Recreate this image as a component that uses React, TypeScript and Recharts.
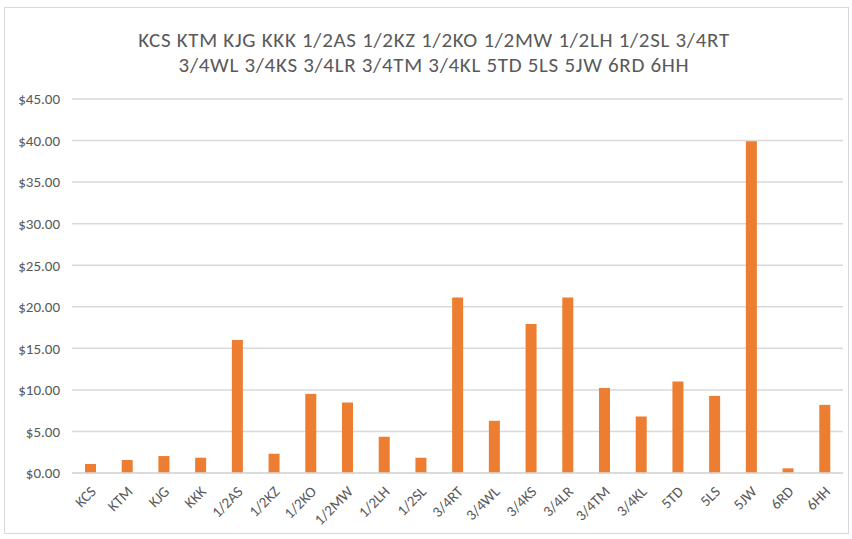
import { BarChart, Bar, XAxis, YAxis, CartesianGrid } from 'recharts'

// category names (also used to build the title)
const categories = [
  'KCS', 'KTM', 'KJG', 'KKK', '1/2AS', '1/2KZ', '1/2KO', '1/2MW', '1/2LH', '1/2SL', '3/4RT',
  '3/4WL', '3/4KS', '3/4LR', '3/4TM', '3/4KL', '5TD', '5LS', '5JW', '6RD', '6HH'
]

// price per item
const prices = [
  1.08, 1.56, 2.04, 1.84, 16.0, 2.32, 9.52, 8.48, 4.36, 1.84, 21.12,
  6.28, 17.92, 21.12, 10.24, 6.8, 11.0, 9.28, 39.92, 0.56, 8.2
]

const yTicks = [0, 5, 10, 15, 20, 25, 30, 35, 40, 45]

const titleLines = [categories.slice(0, 11).join(' '), categories.slice(11).join(' ')]

const data = categories.map((name, i) => ({ name, value: prices[i] }))

const FONT = 'Carlito, Calibri, Lato, sans-serif'
const GREY = '#595959'

const XTick = (props: any) => {
  const { x, y, payload } = props
  return (
    <g transform={`translate(${x + 3},${y + 8})`}>
      <text
        x={0}
        y={0}
        dy={5}
        textAnchor="end"
        transform="rotate(-45)"
        fill={GREY}
        fontSize={15}
        fontFamily={FONT}
      >
        {payload.value}
      </text>
    </g>
  )
}

export default function App() {
  return (
    <div style={{ position: 'absolute', left: 0, top: 0, width: 852, height: 539, background: '#fff' }}>
      <div
        style={{
          position: 'absolute',
          left: 4,
          top: 7,
          width: 843,
          height: 525,
          border: '1px solid #d9d9d9'
        }}
      />
      {titleLines.map((line, i) => (
        <div
          key={i}
          style={{
            position: 'absolute',
            left: 0,
            width: 868,
            top: 28 + i * 25,
            textAlign: 'center',
            fontFamily: FONT,
            fontSize: 21,
            letterSpacing: 0.7,
            color: GREY,
            lineHeight: '25px',
            whiteSpace: 'nowrap'
          }}
        >
          {line}
        </div>
      ))}
      <div style={{ position: 'absolute', left: 0, top: 0 }}>
        <BarChart
          width={852}
          height={539}
          data={data}
          margin={{ top: 99, right: 9, bottom: 6, left: 12 }}
        >
          <CartesianGrid vertical={false} stroke="#d9d9d9" strokeWidth={1.5} />
          <XAxis
            dataKey="name"
            interval={0}
            height={60}
            tickLine={false}
            axisLine={{ stroke: '#d9d9d9', strokeWidth: 1.5 }}
            tick={<XTick />}
          />
          <YAxis
            width={60}
            domain={[0, 45]}
            ticks={yTicks}
            interval={0}
            axisLine={false}
            tickLine={false}
            tickMargin={6}
            tickFormatter={(v: number) => `$${v.toFixed(2)}`}
            tick={{ fill: GREY, fontSize: 15, fontFamily: FONT }}
          />
          <Bar dataKey="value" fill="#ED7D31" barSize={11} isAnimationActive={false} />
        </BarChart>
      </div>
    </div>
  )
}
